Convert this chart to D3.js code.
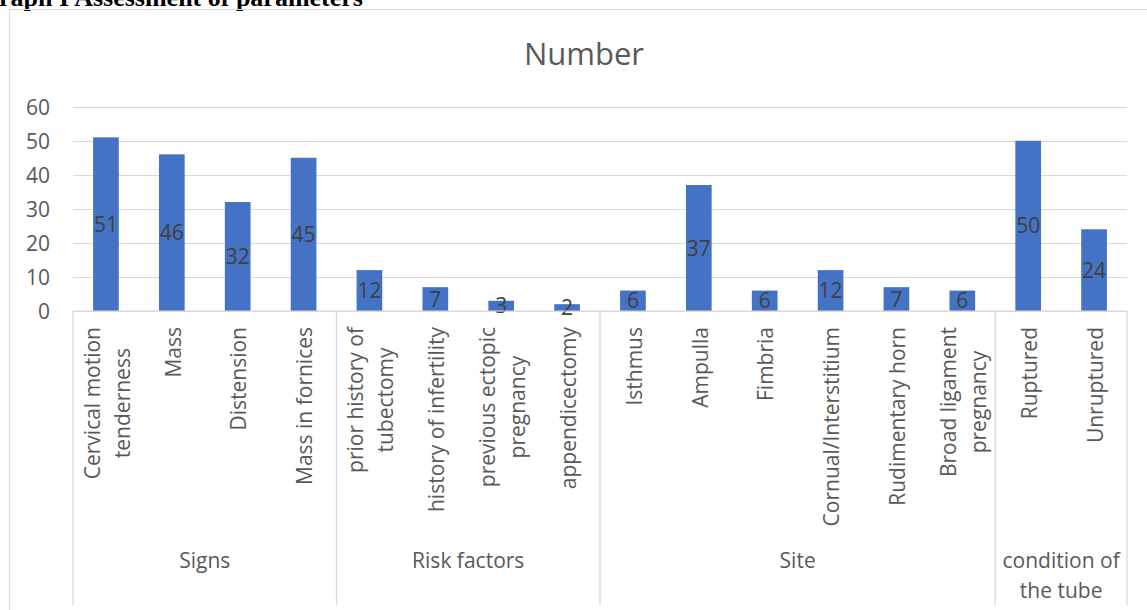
<!DOCTYPE html>
<html>
<head>
<meta charset="utf-8">
<script src="https://cdn.jsdelivr.net/npm/d3@7"></script>
<style>
  html, body { margin: 0; padding: 0; background: #fff; overflow: hidden; }
  svg { display: block; }
</style>
</head>
<body>
<svg id="chart"></svg>
<script>
// categories (line breaks as wrapped in the original), values, groups
const categories = [
  "Cervical motion\ntenderness", "Mass", "Distension", "Mass in fornices",
  "prior history of\ntubectomy", "history of infertility", "previous ectopic\npregnancy", "appendicectomy",
  "Isthmus", "Ampulla", "Fimbria", "Cornual/Interstitium", "Rudimentary horn", "Broad ligament\npregnancy",
  "Ruptured", "Unruptured"
];
const values = [51, 46, 32, 45, 12, 7, 3, 2, 6, 37, 6, 12, 7, 6, 50, 24];
const groupNames = ["Signs", "Risk factors", "Site", "condition of\nthe tube"];
const groupSizes = [4, 4, 6, 2];
const yTicks = [0, 10, 20, 30, 40, 50, 60];

const W = 1147, H = 610;
const font = "'Open Sans', sans-serif";
const plot = { left: 73, right: 1127, top: 106.7, bottom: 311 };

const svg = d3.select("#chart").attr("width", W).attr("height", H);

// page caption, cut off at the top in the source
svg.append("text")
  .attr("x", -1).attr("y", 6)
  .style("font-family", "'Liberation Serif', 'Times New Roman', serif")
  .style("font-weight", "bold")
  .style("font-size", "26px")
  .attr("fill", "#000")
  .text("raph I Assessment of parameters");

// chart area border (runs off the right and bottom edges)
svg.append("path")
  .attr("d", `M9.5,${H} V9.5 H${W}`)
  .attr("fill", "none")
  .attr("stroke", "#d9d9d9")
  .attr("stroke-width", 1);

// title
svg.append("text")
  .attr("x", 584).attr("y", 65)
  .attr("text-anchor", "middle")
  .style("font-family", font)
  .style("font-size", "31px")
  .attr("fill", "#595959")
  .text("Number");

const x = d3.scaleBand()
  .domain(d3.range(categories.length))
  .range([plot.left, plot.right])
  .paddingInner(0.61)
  .paddingOuter(0.305);

const y = d3.scaleLinear()
  .domain([0, 60])
  .range([plot.bottom, plot.top]);

// y axis + gridlines
const yAxis = svg.append("g")
  .attr("transform", `translate(${plot.left},0)`)
  .call(d3.axisLeft(y).tickValues(yTicks).tickSize(-(plot.right - plot.left)).tickPadding(23));
yAxis.select(".domain").remove();
yAxis.selectAll(".tick line").attr("stroke", "#d9d9d9").attr("shape-rendering", "crispEdges");
yAxis.selectAll(".tick text")
  .style("font-family", font)
  .style("font-size", "21px")
  .attr("fill", "#595959")
  .attr("dy", "0.36em");

// bars
svg.append("g").selectAll("rect")
  .data(values)
  .join("rect")
  .attr("x", (d, i) => x(i))
  .attr("y", d => y(d))
  .attr("width", x.bandwidth())
  .attr("height", d => y(0) - y(d))
  .attr("fill", "#4472C4");

// data labels, centered in each bar
svg.append("g").selectAll("text")
  .data(values)
  .join("text")
  .attr("x", (d, i) => x(i) + x.bandwidth() / 2)
  .attr("y", d => (y(0) + y(d)) / 2)
  .attr("dy", "0.36em")
  .attr("text-anchor", "middle")
  .style("font-family", font)
  .style("font-size", "21px")
  .attr("fill", "#404040")
  .text(d => d);

// category axis: baseline and group separators
const step = x.step();
const bounds = [0];
groupSizes.forEach((n, i) => bounds.push(bounds[i] + n));
const sepX = k => plot.left + k * step;

svg.append("line")
  .attr("x1", plot.left).attr("x2", plot.right)
  .attr("y1", y(0)).attr("y2", y(0))
  .attr("stroke", "#d9d9d9");

svg.append("g").selectAll("line")
  .data(bounds)
  .join("line")
  .attr("x1", d => sepX(d)).attr("x2", d => sepX(d))
  .attr("y1", y(0)).attr("y2", 605)
  .attr("stroke", "#d9d9d9")
  .attr("stroke-width", 1.3);

// rotated category labels, block top-aligned, lines centered on each other
const lineH = 30;
const labels = svg.append("g").selectAll("g")
  .data(categories)
  .join("g")
  .attr("transform", (d, i) => `translate(${x(i) + x.bandwidth() / 2},327) rotate(-90)`);

labels.each(function (d) {
  const g = d3.select(this);
  const lines = d.split("\n");
  const ts = lines.map((t, j) => g.append("text")
    .attr("y", 8.7 + (j - (lines.length - 1) / 2) * lineH)
    .attr("text-anchor", "middle")
    .style("font-family", font)
    .style("font-size", "21px")
    .attr("fill", "#595959")
    .text(t));
  const maxLen = d3.max(ts, t => t.node().getComputedTextLength());
  ts.forEach(t => t.attr("x", -maxLen / 2));
});

// group labels
svg.append("g").selectAll("text")
  .data(groupNames)
  .join("text")
  .attr("x", (d, i) => (sepX(bounds[i]) + sepX(bounds[i + 1])) / 2)
  .attr("y", 568)
  .attr("text-anchor", "middle")
  .style("font-family", font)
  .style("font-size", "21px")
  .attr("fill", "#595959")
  .each(function (d) {
    const t = d3.select(this);
    const cx = t.attr("x");
    d.split("\n").forEach((line, j) => {
      t.append("tspan")
        .attr("x", cx)
        .attr("dy", j === 0 ? 0 : 29.5)
        .text(line);
    });
  });
</script>
</body>
</html>
